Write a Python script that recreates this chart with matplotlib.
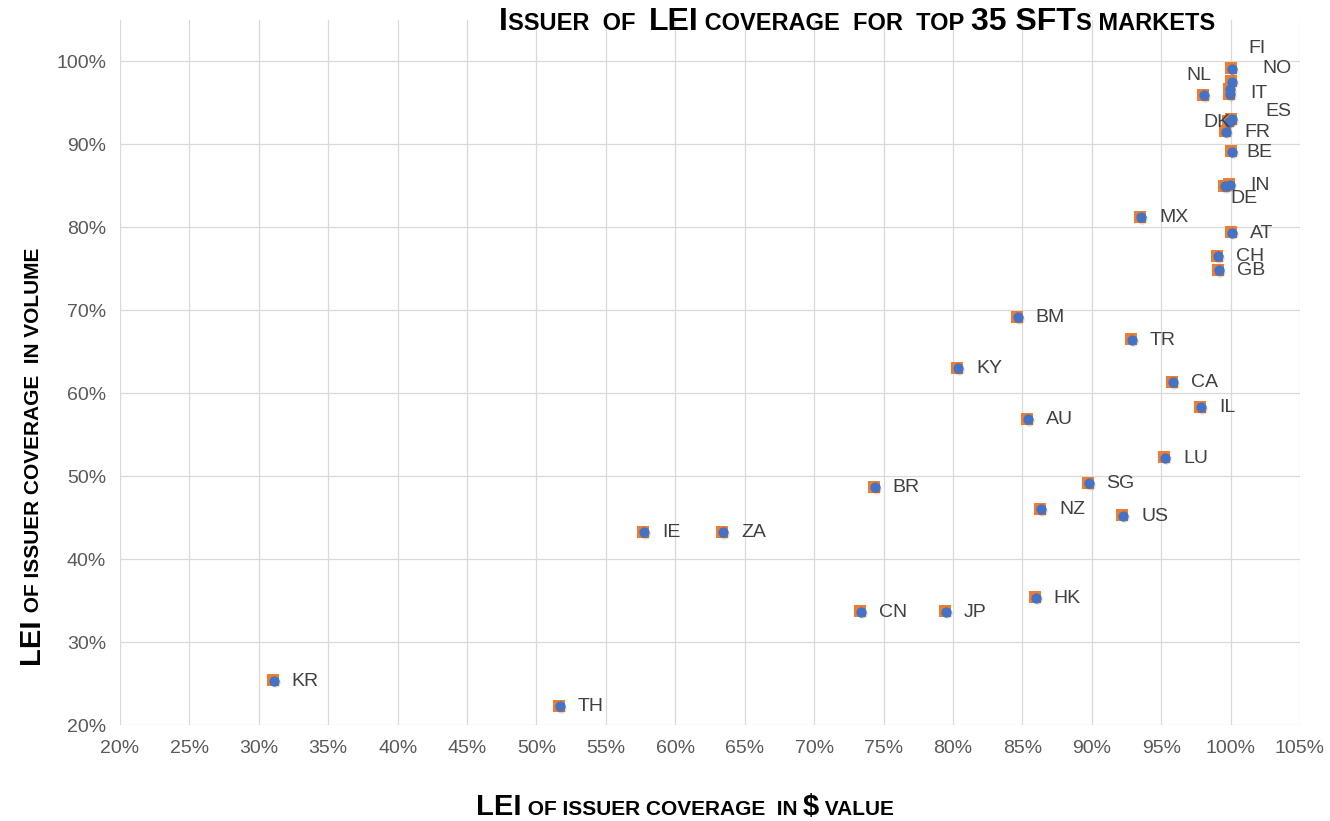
import matplotlib
matplotlib.use("Agg")
import matplotlib.pyplot as plt
import matplotlib.transforms as mtransforms
from matplotlib import font_manager

# ---------------- data ----------------
countries = ["FI", "NO", "", "IT", "NL", "ES", "DK", "FR", "BE", "IN", "DE", "MX",
             "AT", "CH", "GB", "BM", "TR", "KY", "CA", "IL", "AU", "LU", "SG",
             "BR", "NZ", "US", "IE", "ZA", "CN", "JP", "HK", "KR", "TH"]
value_cov = [100.0, 100.0, 99.9, 99.9, 98.0, 100.0, 99.8, 99.6, 100.0, 99.9, 99.5, 93.5,
             100.0, 99.0, 99.1, 84.6, 92.8, 80.3, 95.8, 97.8, 85.3, 95.2, 89.7,
             74.3, 86.3, 92.2, 57.7, 63.4, 73.3, 79.4, 85.9, 31.0, 51.6]
volume_cov = [99.2, 97.6, 96.7, 96.1, 96.0, 93.1, 92.8, 91.6, 89.2, 85.2, 85.0, 81.3,
              79.4, 76.6, 74.9, 69.2, 66.5, 63.1, 61.4, 58.4, 56.9, 52.3, 49.2,
              48.7, 46.1, 45.3, 43.3, 43.3, 33.7, 33.7, 35.4, 25.4, 22.3]
x_ticks = list(range(20, 106, 5))
y_ticks = list(range(20, 101, 10))

# label offsets in pixels (dx right, dy up) for manually-placed labels
label_offsets_px = {
    "FI": (18, 20), "NO": (32, 13), "IT": (21, 0), "NL": (-16, 19),
    "ES": (35, 7), "DK": (-24, -1), "FR": (19, -1), "BE": (16, -1),
    "IN": (21, -1), "DE": (7, -13),
}
default_offset_px = (19, -1)

ORANGE = "#ED7D31"
BLUE = "#4472C4"
GRID = "#D9D9D9"
TICK_COLOR = "#595959"
LABEL_COLOR = "#404040"

available = {f.name for f in font_manager.fontManager.ttflist}
narrow = "Liberation Sans Narrow" if "Liberation Sans Narrow" in available else "Liberation Sans"
plt.rcParams["font.family"] = ["Liberation Sans", "DejaVu Sans"]

W, H, DPI = 1330, 821, 100
fig = plt.figure(figsize=(W / DPI, H / DPI), dpi=DPI)
ax = fig.add_axes([120 / W, 1 - 725 / H, (1300 - 120) / W, (725 - 20) / H])

ax.set_xlim(20, 105)
ax.set_ylim(20, 105)
ax.set_xticks(x_ticks)
ax.set_yticks(y_ticks)
ax.set_xticklabels([f"{t}%" for t in x_ticks])
ax.set_yticklabels([f"{t}%" for t in y_ticks])
ax.tick_params(axis="both", length=0, labelsize=14, colors=TICK_COLOR)
ax.tick_params(axis="x", pad=11)
ax.tick_params(axis="y", pad=10)
ax.grid(True, color=GRID, linewidth=0.9)
ax.set_axisbelow(True)
for s in ax.spines.values():
    s.set_visible(False)

# markers: orange square, blue circle slightly offset with a faint shadow
ax.plot(value_cov, volume_cov, linestyle="none", marker="s", markersize=8,
        color=ORANGE, markeredgewidth=0, zorder=3, clip_on=False)
shadow_tr = ax.transData + mtransforms.ScaledTranslation(0.02, -0.02, fig.dpi_scale_trans)
ax.plot(value_cov, volume_cov, linestyle="none", marker="o", markersize=7.4,
        color="#000000", alpha=0.15, markeredgewidth=0, zorder=4,
        transform=shadow_tr, clip_on=False)
circ_tr = ax.transData + mtransforms.ScaledTranslation(0.01, -0.005, fig.dpi_scale_trans)
ax.plot(value_cov, volume_cov, linestyle="none", marker="o", markersize=7.4,
        color=BLUE, markeredgewidth=0, zorder=5, transform=circ_tr, clip_on=False)

for name, x, y in zip(countries, value_cov, volume_cov):
    if not name:
        continue
    dx, dy = label_offsets_px.get(name, default_offset_px)
    ax.annotate(name, (x, y), xytext=(dx * 0.72, dy * 0.72), textcoords="offset points",
                ha="left", va="center", fontsize=14, color=LABEL_COLOR, zorder=6)


# ---------- small-caps style composite texts ----------
def composite(pieces, cx, cy, family, rotation=0, color="black"):
    """pieces: list of (text, size). cx, cy: centre/baseline in pixels (top-left origin)."""
    fig.canvas.draw()
    r = fig.canvas.get_renderer()
    objs, lens = [], []
    for txt, size in pieces:
        t = fig.text(0, 0, txt, fontsize=size, fontweight="bold", family=family,
                     color=color, rotation=rotation, va="baseline", ha="left",
                     rotation_mode="anchor")
        bb = t.get_window_extent(renderer=r)
        lens.append(bb.width if rotation == 0 else bb.height)
        objs.append(t)
    total = sum(lens)
    pos = -total / 2
    for t, L in zip(objs, lens):
        if rotation == 0:
            t.set_position(((cx + pos) / W, 1 - cy / H))
        else:
            t.set_position((cx / W, 1 - (cy - pos) / H))
        pos += L


L1, S1 = 23, 17
composite([("I", L1), ("SSUER  OF  ", S1), ("LEI", L1), (" COVERAGE  FOR  TOP ", S1),
           ("35 SFT", L1), ("S MARKETS", S1)], 857, 30, narrow)

L2, S2 = 21, 15
composite([("LEI", L2), (" OF ISSUER COVERAGE  IN ", S2), ("$", L2), (" VALUE", S2)],
          685, 815, ["Liberation Sans", "DejaVu Sans"])
composite([("LEI", L2), (" OF ISSUER COVERAGE  IN VOLUME", S2)],
          39, 456, ["Liberation Sans", "DejaVu Sans"], rotation=90)

fig.savefig("out.png", dpi=DPI)
